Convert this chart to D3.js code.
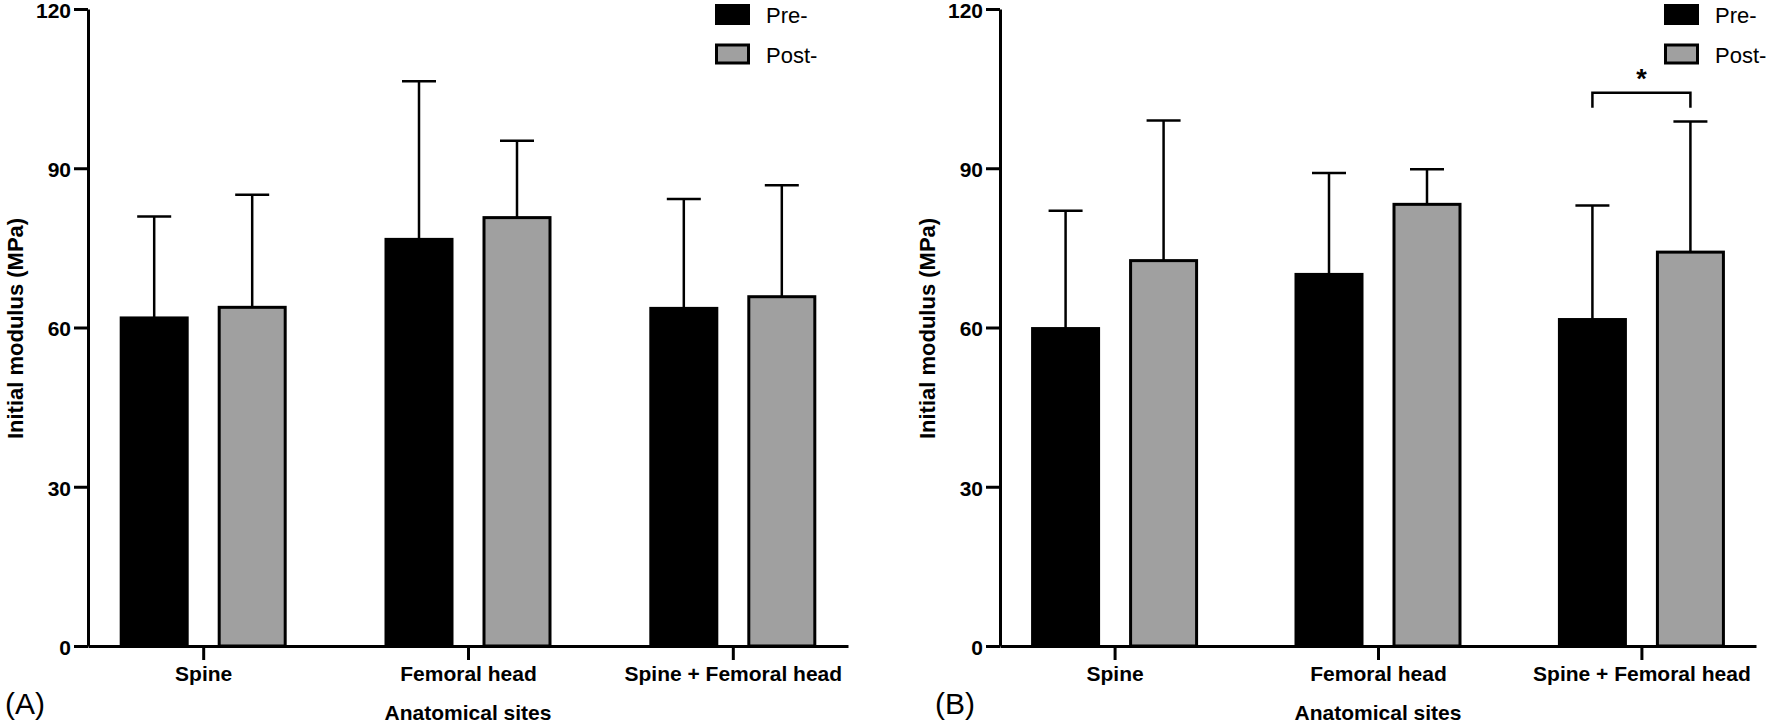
<!DOCTYPE html>
<html>
<head>
<meta charset="utf-8">
<script src="https://cdn.jsdelivr.net/npm/d3@7"></script>
<style>
  html, body { margin: 0; padding: 0; background: #fff; }
  svg { display: block; font-family: "Liberation Sans", Arial, Helvetica, sans-serif; }
</style>
</head>
<body>
<svg id="chart" width="1770" height="723"></svg>
<script>
// ---------- data ----------
const categories = ["Spine", "Femoral head", "Spine + Femoral head"];
const seriesNames = ["Pre-", "Post-"];
const yTicks = [0, 30, 60, 90, 120];

// Panel A: means and SD (upper error bar length)
const preA = [61.8, 76.6, 63.6];
const preA_sd = [19.1, 29.8, 20.6];
const postA = [63.8, 80.7, 65.8];
const postA_sd = [21.2, 14.5, 21.0];

// Panel B: means and SD
const preB = [59.8, 70.0, 61.5];
const preB_sd = [22.2, 19.1, 21.5];
const postB = [72.6, 83.2, 74.2];
const postB_sd = [26.4, 6.6, 24.6];

// significance bracket in panel B
const sigCategoryB = "Spine + Femoral head";
const sigLevelB = 104.2;
const sigLabelB = "*";

const yTitle = "Initial modulus (MPa)";
const xTitle = "Anatomical sites";

// ---------- drawing ----------
const svg = d3.select("#chart");
const FONT = 21;
const GRAY = "#a0a0a0";

function drawPanel(cfg) {
  const g = svg.append("g");
  const x = d3.scalePoint().domain(categories).range([cfg.x0, cfg.x1]).padding(0.435);
  const y = d3.scaleLinear().domain([0, 120]).range([646, 9]);
  const barW = 66, off = 49, capW = 34;

  const series = [
    {name: seriesNames[0], vals: cfg.pre, sd: cfg.preSd, fill: "#000", dx: -off},
    {name: seriesNames[1], vals: cfg.post, sd: cfg.postSd, fill: GRAY, dx: off}
  ];

  series.forEach(s => {
    const data = categories.map((c, i) => ({c, v: s.vals[i], e: s.sd[i]}));
    // error bars (upper only)
    g.selectAll(null).data(data).enter().append("line")
      .attr("x1", d => x(d.c) + s.dx).attr("x2", d => x(d.c) + s.dx)
      .attr("y1", d => y(d.v)).attr("y2", d => y(d.v + d.e))
      .attr("stroke", "#000").attr("stroke-width", 2.5);
    g.selectAll(null).data(data).enter().append("line")
      .attr("x1", d => x(d.c) + s.dx - capW / 2).attr("x2", d => x(d.c) + s.dx + capW / 2)
      .attr("y1", d => y(d.v + d.e)).attr("y2", d => y(d.v + d.e))
      .attr("stroke", "#000").attr("stroke-width", 2.5);
    // bars
    g.selectAll(null).data(data).enter().append("rect")
      .attr("x", d => x(d.c) + s.dx - barW / 2)
      .attr("y", d => y(d.v))
      .attr("width", barW)
      .attr("height", d => y(0) - y(d.v))
      .attr("fill", s.fill)
      .attr("stroke", "#000").attr("stroke-width", 3);
  });

  // y axis
  const ya = g.append("g").attr("transform", `translate(${cfg.x0},0)`)
    .call(d3.axisLeft(y).tickValues(yTicks).tickSize(14).tickSizeOuter(0).tickPadding(3));
  ya.select(".domain").attr("stroke-width", 3);
  ya.selectAll(".tick line").attr("stroke-width", 3);
  ya.selectAll(".tick text").attr("font-size", FONT).attr("font-weight", "bold")
    .attr("dy", "0.4em")
    .attr("fill", "#000").attr("font-family", "Liberation Sans, Arial, sans-serif");

  // x axis
  const xa = g.append("g").attr("transform", `translate(0,${y(0)})`)
    .call(d3.axisBottom(x).tickSize(14).tickSizeOuter(0).tickPadding(6));
  xa.select(".domain").attr("stroke-width", 3);
  xa.selectAll(".tick line").attr("stroke-width", 3);
  xa.selectAll(".tick text").attr("font-size", FONT).attr("font-weight", "bold")
    .attr("fill", "#000").attr("font-family", "Liberation Sans, Arial, sans-serif");

  // axis titles
  g.append("text")
    .attr("transform", `translate(${cfg.yTitleX},${(y(0) + y(120)) / 2 + 1}) rotate(-90)`)
    .attr("text-anchor", "middle")
    .attr("font-size", 22).attr("font-weight", "bold")
    .text(yTitle);
  g.append("text")
    .attr("x", (cfg.x0 + cfg.x1) / 2).attr("y", 720)
    .attr("text-anchor", "middle")
    .attr("font-size", FONT).attr("font-weight", "bold")
    .text(xTitle);

  // panel label
  g.append("text").attr("x", cfg.labelX).attr("y", 714)
    .attr("font-size", 30).text(cfg.label);

  // legend
  const lg = g.append("g").attr("transform", `translate(${cfg.legX},0)`);
  series.forEach((s, i) => {
    lg.append("rect").attr("x", 1.5).attr("y", 5.5 + i * 39.5)
      .attr("width", 32).attr("height", 18)
      .attr("fill", s.fill).attr("stroke", "#000").attr("stroke-width", 3);
    lg.append("text").attr("x", 51).attr("y", 23 + i * 40)
      .attr("font-size", 22).text(s.name);
  });

  // significance bracket
  if (cfg.sig) {
    const xc = x(cfg.sig.cat);
    const yb = y(cfg.sig.level);
    const xl = xc - off, xr = xc + off;
    g.append("path")
      .attr("d", `M${xl},${yb + 15}V${yb}H${xr}V${yb + 15}`)
      .attr("fill", "none").attr("stroke", "#000").attr("stroke-width", 2.5);
    g.append("text").attr("x", xc).attr("y", yb - 5)
      .attr("text-anchor", "middle").attr("font-size", 27).attr("font-weight", "bold")
      .text(cfg.sig.label);
  }
}

drawPanel({x0: 88, x1: 848, pre: preA, preSd: preA_sd, post: postA, postSd: postA_sd,
  yTitleX: 23, label: "(A)", labelX: 5, legX: 715});
drawPanel({x0: 1000, x1: 1756, pre: preB, preSd: preB_sd, post: postB, postSd: postB_sd,
  yTitleX: 935, label: "(B)", labelX: 935, legX: 1664,
  sig: {cat: sigCategoryB, level: sigLevelB, label: sigLabelB}});
</script>
</body>
</html>
